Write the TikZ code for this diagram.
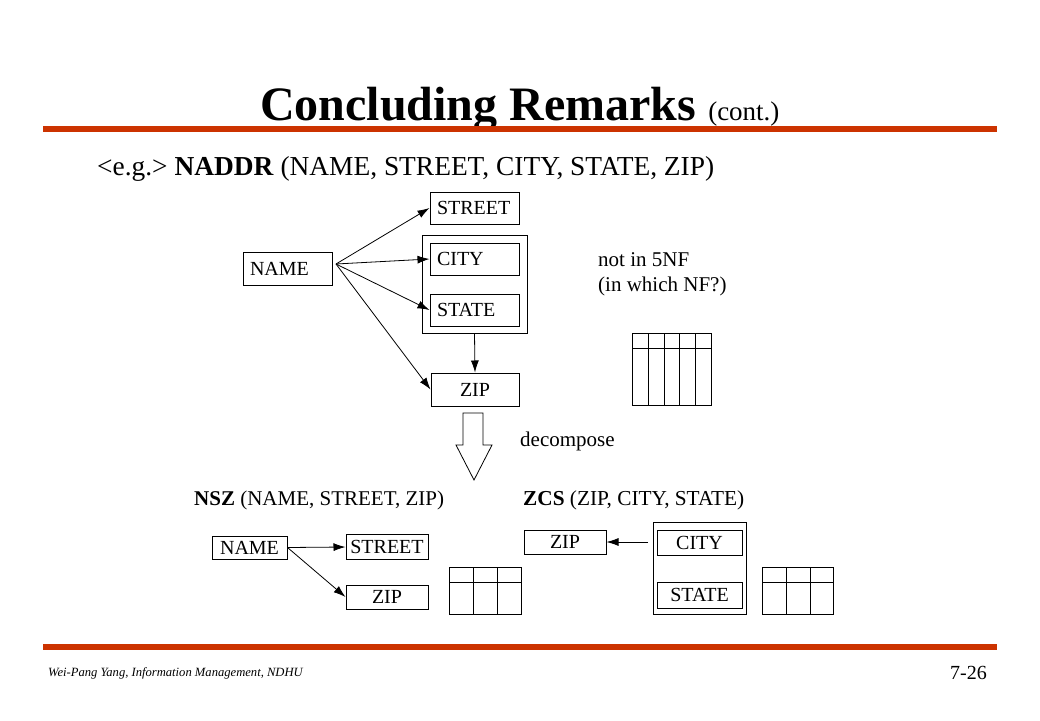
\documentclass[tikz,border=0pt]{standalone}
\usepackage{fontspec}
\setmainfont{Liberation Serif}
\usetikzlibrary{arrows.meta,positioning}
\definecolor{slidered}{RGB}{204,51,0}

\tikzset{
  attr/.style={draw, line width=1pt, inner sep=0pt, font=\fontsize{20}{24}\selectfont},
  lattr/.style={attr, text width=75pt, align=left, inner xsep=7pt, minimum height=32pt},
  fd/.style={-{Latex[length=12pt, width=8pt]}, line width=0.8pt},
  rule/.style={line width=6pt, slidered}
}

\begin{document}
\begin{tikzpicture}[x=1pt, y=-1pt]
    \useasboundingbox (0, 0) rectangle (1040, 720);

    \node (title) at (260, 120) [anchor=base west, inner sep=0pt]
      {\fontsize{48}{48}\selectfont\bfseries Concluding Remarks \fontsize{27}{27}\mdseries\selectfont(cont.)};
    \draw [rule] (43, 129) -- (997, 129);

    \node (naddr) at (97, 175) [anchor=base west, inner sep=0pt, font=\fontsize{27.4}{30}\selectfont]
      {<e.g.> \textbf{NADDR} (NAME, STREET, CITY, STATE, ZIP)};

    % the dependencies of NADDR
    \node (street) at (474.5, 208) [lattr] {STREET};
    \node (grp) at (474.5, 284) [attr, minimum width=105pt, minimum height=98pt] {};
    \node (city) at (474.5, 259) [lattr] {CITY};
    \node (state) [lattr, below=18pt of city] {STATE};
    \node (name) at (287.5, 268.5) [lattr, minimum height=33pt] {NAME};
    \node (zip) at (475, 389.5) [attr, minimum width=88pt, minimum height=33pt] {ZIP};

    \coordinate (fan) at (336, 264);
    \draw [fd] (fan) -- (street.west);
    \draw [fd] (fan) -- (city.west);
    \draw [fd] (fan) -- (state.west);
    \draw [fd] (fan) -- (zip.west);
    \draw [fd] (grp.south) -- (zip.north);

    \node (nf) at (598, 252) [anchor=north west, inner sep=0pt, align=left, font=\fontsize{21}{25}\selectfont]
      {not in 5NF\\(in which NF?)};

    \draw [line width=1pt] (632, 333) rectangle (711, 405);
    \draw [line width=1pt] (632, 348) -- (711, 348);
    \foreach \x in {648, 664, 679, 695}
      \draw [line width=1pt] (\x, 333) -- (\x, 405);

    % decompose
    \draw [line width=0.8pt] (463, 413) -- (483, 413) -- (483, 445) -- (492, 445) -- (474, 480)
      -- (456, 445) -- (463, 445) -- cycle;
    \node (dec) at (520, 446) [anchor=base west, inner sep=0pt, font=\fontsize{21}{21}\selectfont] {decompose};

    % NSZ
    \node (nsz) at (194, 505) [anchor=base west, inner sep=0pt, font=\fontsize{21}{21}\selectfont]
      {\textbf{NSZ} (NAME, STREET, ZIP)};
    \node (name2) at (249.5, 547.5) [attr, minimum width=75pt, minimum height=23pt] {NAME};
    \node (street2) at (387, 547) [attr, minimum width=82pt, minimum height=25pt] {STREET};
    \node (zip2) at (387, 597) [attr, minimum width=82pt, minimum height=24pt] {ZIP};
    \draw [fd] (name2.east) -- (street2.west);
    \draw [fd] (name2.east) -- (zip2.west);

    \draw [line width=1pt] (449, 567) rectangle (521, 614);
    \draw [line width=1pt] (449, 582) -- (521, 582);
    \foreach \x in {473, 497}
      \draw [line width=1pt] (\x, 567) -- (\x, 614);

    % ZCS
    \node (zcs) at (523, 505) [anchor=base west, inner sep=0pt, font=\fontsize{21.3}{21}\selectfont]
      {\textbf{ZCS} (ZIP, CITY, STATE)};
    \node (zip3) at (565, 542) [attr, minimum width=82pt, minimum height=24pt] {ZIP};
    \node (grp2) at (699.5, 568) [attr, minimum width=93pt, minimum height=92pt] {};
    \node (city2) at (699.5, 542.5) [attr, minimum width=85pt, minimum height=25pt] {CITY};
    \node (state2) [attr, minimum width=85pt, minimum height=26pt, below=26pt of city2] {STATE};
    \coordinate (back) at (648, 542);
    \draw [fd] (back) -- (zip3.east);

    \draw [line width=1pt] (762, 567) rectangle (833, 614);
    \draw [line width=1pt] (762, 582) -- (833, 582);
    \foreach \x in {786, 810}
      \draw [line width=1pt] (\x, 567) -- (\x, 614);

    % footer
    \draw [rule] (43, 647) -- (997, 647);
    \node (author) at (48, 676) [anchor=base west, inner sep=0pt, font=\fontsize{12.6}{13}\selectfont\itshape]
      {Wei-Pang Yang, Information Management, NDHU};
    \node (page) at (987, 679) [anchor=base east, inner sep=0pt, font=\fontsize{20}{20}\selectfont] {7-26};
\end{tikzpicture}
\end{document}
